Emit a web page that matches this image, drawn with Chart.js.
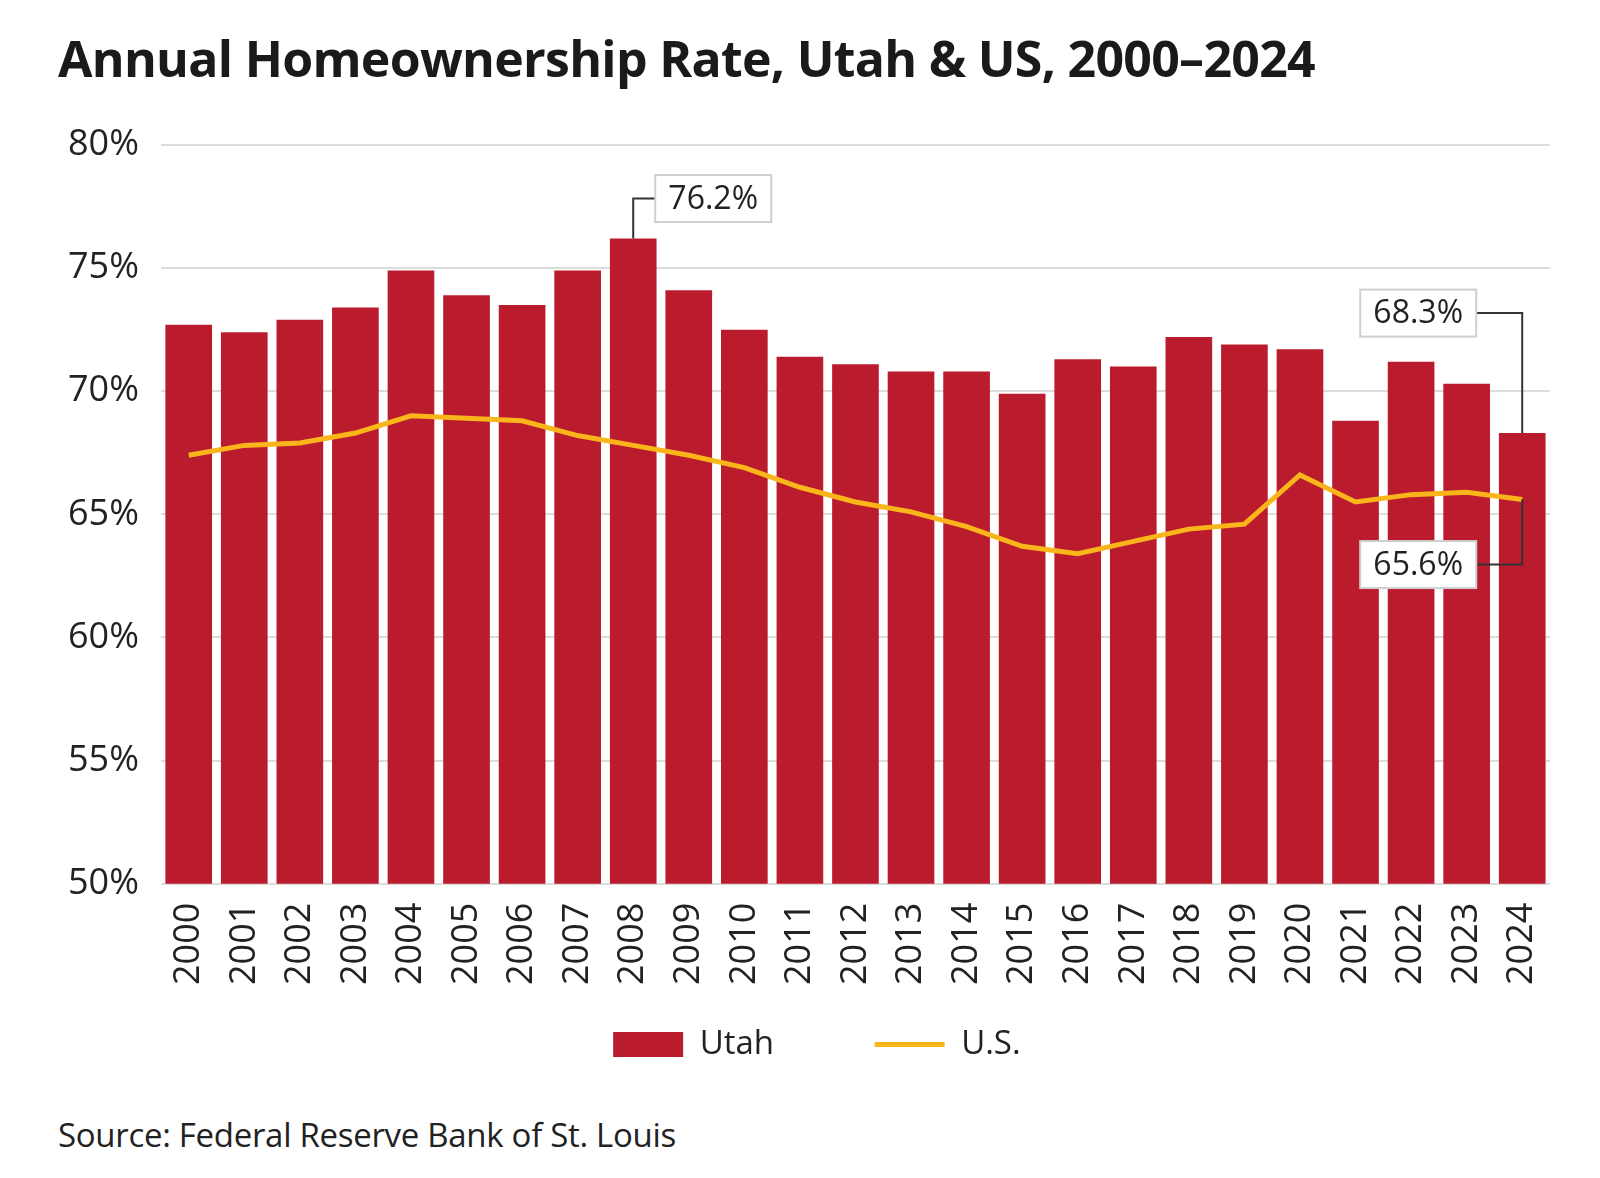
<!DOCTYPE html>
<html>
<head>
<meta charset="utf-8">
<script src="https://cdn.jsdelivr.net/npm/chart.js@4"></script>
<style>
  body { margin: 0; background: #fff; width: 1600px; height: 1178px; position: relative; overflow: hidden; }
  #title { position: absolute; left: 58px; top: 24px; font: bold 50px "Open Sans", sans-serif; color: #1a1a1a; letter-spacing: -0.7px; }
  #source { position: absolute; left: 58px; top: 1112px; font: 33px "Open Sans", sans-serif; color: #222; letter-spacing: -0.3px; }
  #wrap { position: absolute; left: 0; top: 100px; width: 1600px; height: 980px; }
</style>
</head>
<body>
<div id="title">Annual Homeownership Rate, Utah &amp; US, 2000–2024</div>
<div id="wrap"><canvas id="chart" width="1600" height="980"></canvas></div>
<div id="source">Source: Federal Reserve Bank of St. Louis</div>
<script>
const years = ['2000','2001','2002','2003','2004','2005','2006','2007','2008','2009','2010','2011','2012',
  '2013','2014','2015','2016','2017','2018','2019','2020','2021','2022','2023','2024'];
const utah = [72.7, 72.4, 72.9, 73.4, 74.9, 73.9, 73.5, 74.9, 76.2, 74.1, 72.5, 71.4, 71.1,
  70.8, 70.8, 69.9, 71.3, 71.0, 72.2, 71.9, 71.7, 68.8, 71.2, 70.3, 68.3];
const us = [67.4, 67.8, 67.9, 68.3, 69.0, 68.9, 68.8, 68.2, 67.8, 67.4, 66.9, 66.1, 65.5,
  65.1, 64.5, 63.7, 63.4, 63.9, 64.4, 64.6, 66.6, 65.5, 65.8, 65.9, 65.6];
const yTicks = [50, 55, 60, 65, 70, 75, 80];

const red = '#BA1C2E';
const gold = '#F9B51A';

// callout boxes with connector lines
const callouts = {
  id: 'callouts',
  afterDatasetsDraw(chart) {
    const ctx = chart.ctx;
    const x = chart.scales.x, y = chart.scales.y;
    ctx.save();
    ctx.font = '32px "Open Sans", sans-serif';
    ctx.textAlign = 'center';
    ctx.textBaseline = 'middle';

    function box(cx, cy, text) {
      const w = 116, h = 47;
      ctx.fillStyle = '#fff';
      ctx.fillRect(cx - w / 2, cy - h / 2, w, h);
      ctx.strokeStyle = '#cfcfcf';
      ctx.lineWidth = 2;
      ctx.strokeRect(cx - w / 2, cy - h / 2, w, h);
      ctx.fillStyle = '#222';
      ctx.fillText(text, cx, cy + 1);
    }
    function path(pts) {
      ctx.strokeStyle = '#333';
      ctx.lineWidth = 2;
      ctx.beginPath();
      ctx.moveTo(pts[0][0], pts[0][1]);
      for (let i = 1; i < pts.length; i++) ctx.lineTo(pts[i][0], pts[i][1]);
      ctx.stroke();
    }

    // 2008 peak
    const i08 = 8;
    const px08 = x.getPixelForValue(i08), py08 = y.getPixelForValue(utah[i08]);
    path([[px08, py08], [px08, py08 - 40], [px08 + 22, py08 - 40]]);
    box(px08 + 22 + 58, py08 - 40, utah[i08].toFixed(1) + '%');

    // 2024 Utah
    const last = years.length - 1;
    const pxL = x.getPixelForValue(last);
    const pyU = y.getPixelForValue(utah[last]);
    path([[pxL, pyU], [pxL, pyU - 120], [pxL - 46, pyU - 120]]);
    box(pxL - 46 - 58, pyU - 120, utah[last].toFixed(1) + '%');

    // 2024 US
    const pyS = y.getPixelForValue(us[last]);
    path([[pxL, pyS], [pxL, pyS + 65], [pxL - 46, pyS + 65]]);
    box(pxL - 46 - 58, pyS + 65, us[last].toFixed(1) + '%');

    ctx.restore();
  }
};

const nb = n => '\u00a0'.repeat(n);

new Chart(document.getElementById('chart'), {
  data: {
    labels: years,
    datasets: [
      {
        type: 'line',
        label: 'U.S.',
        data: us,
        borderColor: gold,
        backgroundColor: gold,
        borderWidth: 5,
        pointRadius: 0,
        pointStyle: 'line',
        tension: 0,
        order: 1
      },
      {
        type: 'bar',
        label: 'Utah',
        data: utah,
        backgroundColor: red,
        borderColor: red,
        borderWidth: 0,
        barPercentage: 0.84,
        categoryPercentage: 1,
        pointStyle: 'rect',
        order: 2
      }
    ]
  },
  options: {
    responsive: false,
    animation: false,
    devicePixelRatio: 1,
    layout: { padding: { left: 46, right: 50, top: 45, bottom: 9 } },
    scales: {
      x: {
        grid: { display: false },
        border: { display: false },
        ticks: {
          color: '#222',
          font: { family: 'Open Sans', size: 36 },
          minRotation: 90,
          maxRotation: 90,
          padding: 11
        }
      },
      y: {
        min: 50,
        max: 80,
        afterBuildTicks(axis) { axis.ticks = yTicks.map(v => ({ value: v })); },
        grid: { color: '#dcdcdc', lineWidth: 2, drawTicks: false },
        border: { display: false },
        ticks: {
          color: '#222',
          font: { family: 'Open Sans', size: 36 },
          padding: 22,
          callback: v => v + '%'
        }
      }
    },
    plugins: {
      legend: {
        position: 'bottom',
        fullSize: false,
        reverse: true,
        labels: {
          usePointStyle: true,
          pointStyleWidth: 70,
          boxHeight: 25,
          color: '#222',
          font: { family: 'Open Sans', size: 33 },
          padding: 32,
          // widen the gap after "Utah" and nudge the row left, without growing the legend height
          generateLabels(chart) {
            const items = Chart.defaults.plugins.legend.labels.generateLabels(chart);
            items.forEach(it => {
              if (it.text === 'Utah') it.text = 'Utah' + nb(8);
              else it.text = it.text + nb(9);
            });
            return items;
          }
        }
      },
      tooltip: { enabled: false }
    }
  },
  plugins: [callouts]
});
</script>
</body>
</html>
